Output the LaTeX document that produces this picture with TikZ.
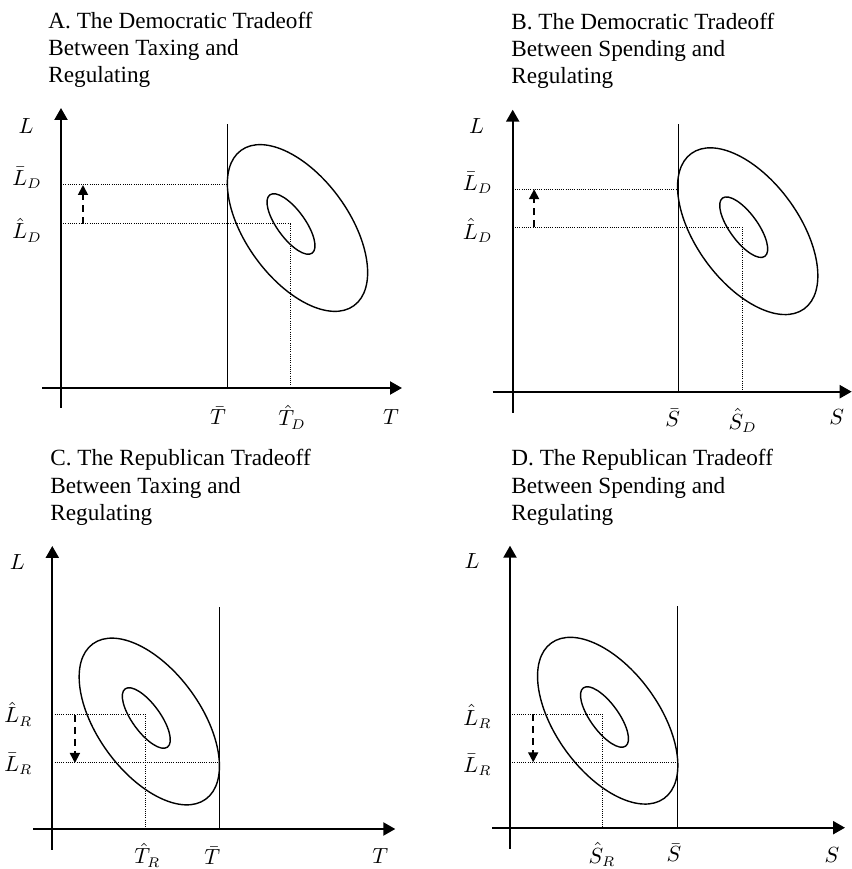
\documentclass[tikz,border=0pt]{standalone}
\usepackage{fontspec}
\setmainfont{Liberation Serif}
\usetikzlibrary{arrows.meta}

\begin{document}
\begin{tikzpicture}[
  x=0.5pt, y=0.5pt,
  axis/.style={line width=1.1pt, -{Triangle[length=6pt,width=6.5pt]}},
  budget/.style={line width=0.6pt},
  indiff/.style={line width=0.7pt},
  guide/.style={line width=0.5pt, dash pattern=on 0.5pt off 0.6pt},
  movearrow/.style={line width=0.9pt, dash pattern=on 3.5pt off 2.5pt, -{Triangle[length=5pt,width=5pt]}},
  title/.style={anchor=north west, inner sep=0pt, align=left, font=\fontsize{11.6}{13.6}\selectfont},
  lab/.style={inner sep=0pt, font=\fontsize{10.5}{12}\selectfont}
]
\useasboundingbox (0,0) rectangle (852,869);

% ----- Titles
\node[title] (tA) at (48,857.5) {A. The Democratic Tradeoff\\Between Taxing and\\Regulating};
\node[title] (tB) at (511,856.5) {B. The Democratic Tradeoff\\Between Spending and\\Regulating};
\node[title] (tC) at (50,419.8) {C. The Republican Tradeoff\\Between Taxing and\\Regulating};
\node[title] (tD) at (511,419.8) {D. The Republican Tradeoff\\Between Spending and\\Regulating};

% ----- Panel A: Democrats, taxing
\begin{scope}[shift={(61,481)}]
  \coordinate (aLbar) at (0,203);
  \coordinate (aLhat) at (0,164);
  \coordinate (aTbar) at (166.5,0);
  \coordinate (aThat) at (229,0);
  \draw[axis] (-19,0) -- (341,0);
  \draw[axis] (0,-20) -- (0,280);
  \draw[budget] (aTbar) -- ++(0,264);
  \draw[guide] (aLbar) -- (aLbar -| aTbar);
  \draw[guide] (aLhat) -| (aThat);
  \draw[movearrow] ([xshift=11pt]aLhat) -- ([xshift=11pt]aLbar);
  \draw[indiff] (236.5,160) ellipse [x radius=96, y radius=51.5, rotate=-54];
  \draw[indiff] (230,164) ellipse [x radius=36, y radius=14, rotate=-54];
  \node[lab] (aL) at (-35,262) {$L$};
  \node[lab] (aLb) at (-34,210) {$\bar{L}_D$};
  \node[lab] (aLh) at (-34,158) {$\hat{L}_D$};
  \node[lab] (aTb) at (157,-28) {$\bar{T}$};
  \node[lab] (aTh) at (231,-29) {$\hat{T}_D$};
  \node[lab] (aT) at (330,-29) {$T$};
\end{scope}

% ----- Panel B: Democrats, spending
\begin{scope}[shift={(512.7,477.3)}]
  \coordinate (bLbar) at (0,202.5);
  \coordinate (bLhat) at (0,164.5);
  \coordinate (bSbar) at (165.6,0);
  \coordinate (bShat) at (229.3,0);
  \draw[axis] (-20,0) -- (339,0);
  \draw[axis] (0,-21) -- (0,282);
  \draw[budget] (bSbar) -- ++(0,268);
  \draw[guide] (bLbar) -- (bLbar -| bSbar);
  \draw[guide] (bLhat) -| (bShat);
  \draw[movearrow] ([xshift=10.7pt]bLhat) -- ([xshift=10.7pt]bLbar);
  \draw[indiff] (235,160.5) ellipse [x radius=96, y radius=51.5, rotate=-54];
  \draw[indiff] (231,164.5) ellipse [x radius=36, y radius=14, rotate=-54];
  \node[lab] (bL) at (-36,266) {$L$};
  \node[lab] (bLb) at (-35,209) {$\bar{L}_D$};
  \node[lab] (bLh) at (-35,161) {$\hat{L}_D$};
  \node[lab] (bSb) at (160,-26) {$\bar{S}$};
  \node[lab] (bSh) at (230,-29) {$\hat{S}_D$};
  \node[lab] (bS) at (324,-25) {$S$};
\end{scope}

% ----- Panel C: Republicans, taxing
\begin{scope}[shift={(52.3,40)}]
  \coordinate (cLhat) at (0,114);
  \coordinate (cLbar) at (0,66);
  \coordinate (cTbar) at (167,0);
  \coordinate (cThat) at (93.4,0);
  \draw[axis] (-19,0) -- (343,0);
  \draw[axis] (0,-21) -- (0,283);
  \draw[budget] (cTbar) -- ++(0,222);
  \draw[guide] (cLbar) -- (cLbar -| cTbar);
  \draw[guide] (cLhat) -| (cThat);
  \draw[movearrow] ([xshift=11.3pt]cLhat) -- ([xshift=11.3pt]cLbar);
  \draw[indiff] (97,107.5) ellipse [x radius=96, y radius=51.5, rotate=-54];
  \draw[indiff] (94,111) ellipse [x radius=36, y radius=14, rotate=-54];
  \node[lab] (cL) at (-35,267) {$L$};
  \node[lab] (cLh) at (-34,115) {$\hat{L}_R$};
  \node[lab] (cLb) at (-34,65) {$\bar{L}_R$};
  \node[lab] (cTh) at (95,-26) {$\hat{T}_R$};
  \node[lab] (cTb) at (160,-27) {$\bar{T}$};
  \node[lab] (cT) at (328,-27) {$T$};
\end{scope}

% ----- Panel D: Republicans, spending
\begin{scope}[shift={(510,41.3)}]
  \coordinate (dLhat) at (0,113.4);
  \coordinate (dLbar) at (0,65.4);
  \coordinate (dSbar) at (167.7,0);
  \coordinate (dShat) at (92.7,0);
  \draw[axis] (-18,0) -- (335,0);
  \draw[axis] (0,-21) -- (0,282);
  \draw[budget] (dSbar) -- ++(0,222);
  \draw[guide] (dLbar) -- (dLbar -| dSbar);
  \draw[guide] (dLhat) -| (dShat);
  \draw[movearrow] ([xshift=11.6pt]dLhat) -- ([xshift=11.6pt]dLbar);
  \draw[indiff] (97.7,107) ellipse [x radius=96, y radius=51.5, rotate=-54];
  \draw[indiff] (94.5,110.7) ellipse [x radius=36, y radius=14, rotate=-54];
  \node[lab] (dL) at (-38,267) {$L$};
  \node[lab] (dLh) at (-32.5,111) {$\hat{L}_R$};
  \node[lab] (dLb) at (-32.5,62.7) {$\bar{L}_R$};
  \node[lab] (dSh) at (92,-27) {$\hat{S}_R$};
  \node[lab] (dSb) at (164,-25) {$\bar{S}$};
  \node[lab] (dS) at (322,-27) {$S$};
\end{scope}

\end{tikzpicture}
\end{document}
